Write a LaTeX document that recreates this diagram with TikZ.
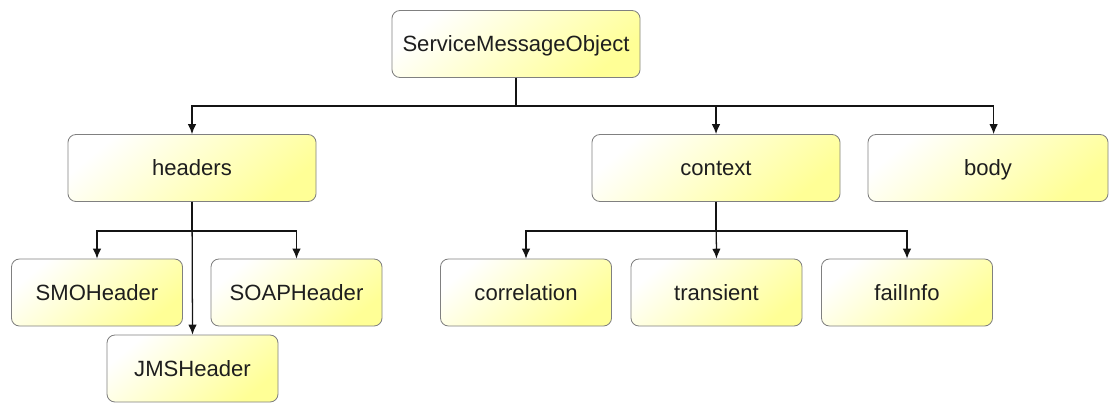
\documentclass[tikz,border=0pt]{standalone}
\usepackage{fontspec}
\setmainfont{Liberation Sans}
\usepackage{tikz}
\usetikzlibrary{arrows.meta, positioning, calc}
\definecolor{boxline}{RGB}{128, 128, 128}
\definecolor{boxfill}{RGB}{255, 255, 150}
\definecolor{linkcolor}{RGB}{20, 20, 20}
\definecolor{textcolor}{RGB}{30, 30, 30}

\begin{document}
\begin{tikzpicture}[
    x=0.025cm, y=-0.025cm,
    part/.style={draw=boxline, line width=0.6pt, rounded corners=0.2cm,
        top color=white, middle color=boxfill!45, bottom color=boxfill,
        shading angle=40,
        inner sep=0pt, minimum width=6.2cm, minimum height=1.675cm,
        text height=11.3pt, text depth=0pt,
        text=textcolor, font=\fontsize{15.7}{18}\selectfont},
    subpart/.style={part, minimum width=4.275cm},
    link/.style={-{Latex[length=7pt, width=6pt]}, line width=0.9pt, linkcolor}
]
    \useasboundingbox (0,0) rectangle (1110,403);

    % Root object
    \node[part] (smo) at (516, 44) {ServiceMessageObject};

    % Top-level parts
    \node[part] (headers) at (192, 168) {headers};
    \node[part] (context) at (716, 168) {context};
    \node[part, minimum width=6cm] (body) at (988, 168) {body};

    % Headers
    \node[subpart] (smoheader) at (97, 292.5) {SMOHeader};
    \node[subpart] (soapheader) at (296.5, 292.5) {SOAPHeader};
    \node[subpart] (jmsheader) at (192.5, 368.5) {JMSHeader};

    % Context
    \node[subpart] (correlation) at (526, 292.5) {correlation};
    \node[subpart] (transient) at (716.5, 292.5) {transient};
    \node[subpart] (failinfo) at (907, 292.5) {failInfo};

    % Root to parts
    \draw[link] (smo.south) -- ++(0, 28) -| (headers.north);
    \draw[link] (smo.south) -- ++(0, 28) -| (context.north);
    \draw[link] (smo.south) -- ++(0, 28) -| ([xshift=4] body.north);

    % Headers to header types
    \draw[link] (headers.south) -- ++(0, 29) -| (smoheader.north);
    \draw[link] (headers.south) -- ++(0, 29) -| (soapheader.north);
    \draw[link] (headers.south) -- (jmsheader.north);

    % Context to context entries
    \draw[link] (context.south) -- ++(0, 29) -| (correlation.north);
    \draw[link] (context.south) -- (transient.north);
    \draw[link] (context.south) -- ++(0, 29) -| (failinfo.north);

\end{tikzpicture}
\end{document}
